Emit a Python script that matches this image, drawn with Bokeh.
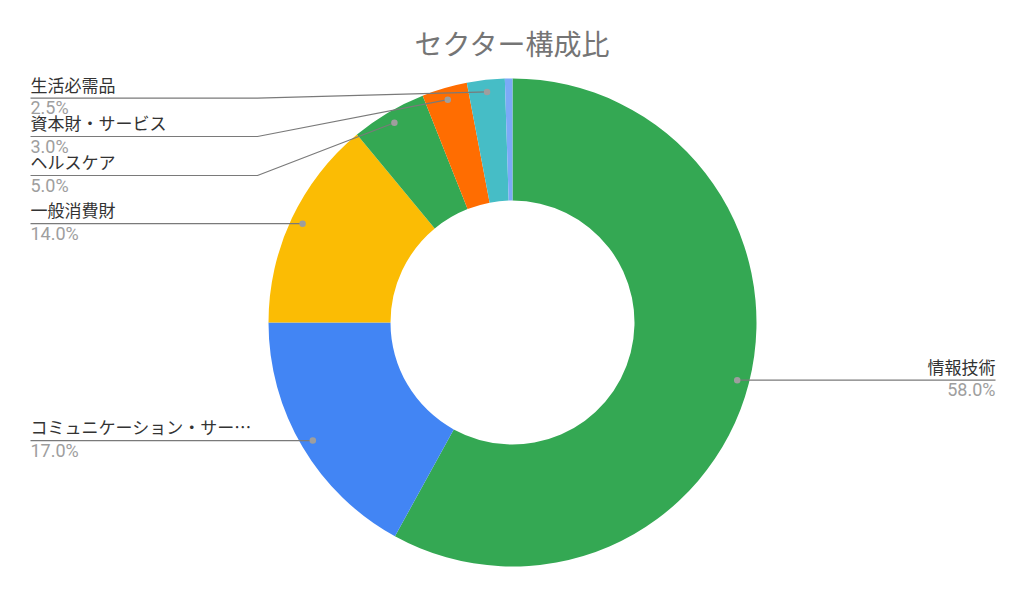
import math
from bokeh.plotting import figure
from bokeh.models import Range1d, ColumnDataSource
from bokeh.core.properties import value
from bokeh.embed import file_html
from bokeh.resources import INLINE

# ---------------- data ----------------
title = "セクター構成比"
categories = ["情報技術", "コミュニケーション・サー…", "一般消費財", "ヘルスケア",
              "資本財・サービス", "生活必需品", "その他"]
shares = [58.0, 17.0, 14.0, 5.0, 3.0, 2.5, 0.5]
value_labels = ["58.0%", "17.0%", "14.0%", "5.0%", "3.0%", "2.5%", "0.5%"]
colors = ["#34a853", "#4285f4", "#fbbc04", "#34a853", "#ff6d01", "#46bdc6", "#7baaf7"]

# ---------------- layout (image pixel coordinates) ----------------
W, H = 1008, 580
CX, CY = 512, 322
R_OUT, R_IN, R_DOT = 244, 122, 232
LEFT_X, RIGHT_X, ELBOW_X = 30, 995, 257
# label row (y of leader line) per slice; None -> use the dot's y; "hide" -> no label
label_rows = [None, None, None, 175, 136, 97.7, "hide"]
label_side = ["right", "left", "left", "left", "left", "left", None]

FONT_JP = "Noto Sans CJK JP"
FONT_NUM = "Roboto"


def Y(y_img):
    return H - y_img


p = figure(width=W, height=H, output_backend="svg", toolbar_location=None,
           x_range=Range1d(0, W), y_range=Range1d(0, H),
           min_border=0, outline_line_color=None)
p.axis.visible = False
p.grid.visible = False
p.background_fill_color = "white"
p.border_fill_color = "white"

# ---------------- wedges ----------------
total = sum(shares)
starts, ends, mids = [], [], []
cum = 0.0
for s in shares:
    c0 = cum / total
    cum += s
    c1 = cum / total
    starts.append(math.pi / 2 - 2 * math.pi * c1)
    ends.append(math.pi / 2 - 2 * math.pi * c0)
    mids.append((c0 + c1) / 2)

src = ColumnDataSource(dict(cat=categories, share=shares, start=starts, end=ends, color=colors))
p.annular_wedge(x=CX, y=Y(CY), inner_radius=R_IN, outer_radius=R_OUT,
                start_angle="start", end_angle="end", fill_color="color",
                line_color=None, source=src)

# ---------------- labels ----------------
dot_x, dot_y = [], []
line_xs, line_ys = [], []
name_x, name_y, name_t, name_align = [], [], [], []
val_x, val_y, val_t = [], [], []
for i, m in enumerate(mids):
    if label_rows[i] == "hide":
        continue
    th = 2 * math.pi * m
    dx = CX + R_DOT * math.sin(th)
    dy = CY - R_DOT * math.cos(th)
    dot_x.append(dx)
    dot_y.append(Y(dy))
    row = dy if label_rows[i] is None else label_rows[i]
    if label_side[i] == "right":
        line_xs.append([dx, RIGHT_X])
        line_ys.append([Y(dy), Y(row)])
        tx = RIGHT_X
        name_align.append("right")
    else:
        if label_rows[i] is None:
            line_xs.append([LEFT_X, dx])
            line_ys.append([Y(row), Y(dy)])
        else:
            line_xs.append([LEFT_X, ELBOW_X, dx])
            line_ys.append([Y(row), Y(row), Y(dy)])
        tx = LEFT_X
        name_align.append("left")
    name_x.append(tx)
    name_y.append(Y(row - 14))
    name_t.append(categories[i])
    val_x.append(tx)
    val_y.append(Y(row + 9.7))
    val_t.append(value_labels[i])

p.multi_line(xs=line_xs, ys=line_ys, line_color="#7a7a7a", line_width=1.2)
p.scatter(x=dot_x, y=dot_y, size=6.5, fill_color="#9e9e9e", line_color=None)

p.text(x=name_x, y=name_y, text=name_t, text_align=name_align, text_baseline="alphabetic",
       text_font=value(FONT_JP), text_font_size="17px", text_color="#333333")
p.text(x=val_x, y=val_y, text=val_t, text_align=name_align, text_baseline="alphabetic",
       text_font=value(FONT_NUM), text_font_size="18px", text_color="#9e9e9e")

# title
p.text(x=[512], y=[Y(42)], text=[title], text_align="center", text_baseline="alphabetic",
       text_font=value(FONT_JP), text_font_size="28px", text_color="#757575")

open("out.html", "w").write(file_html(p, INLINE))
